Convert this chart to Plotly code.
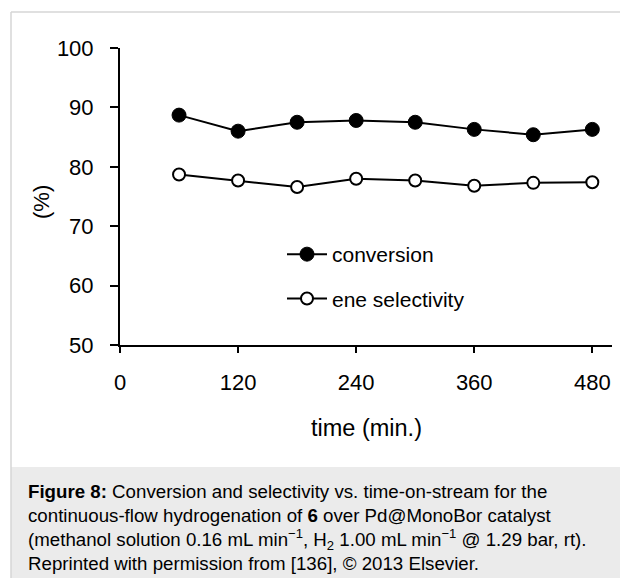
import plotly.graph_objects as go

# ---- data ----
time_min = [60, 120, 180, 240, 300, 360, 420, 480]
conversion = [88.7, 86.0, 87.5, 87.8, 87.5, 86.3, 85.4, 86.3]
ene_selectivity = [78.7, 77.7, 76.6, 78.0, 77.7, 76.8, 77.3, 77.4]
x_ticks = [0, 120, 240, 360, 480]
y_ticks = [50, 60, 70, 80, 90, 100]

W, H = 620, 578
L, R, T, B = 120, 8, 48, 233
PW, PH = W - L - R, H - T - B
FONT = "Liberation Sans, Arial, sans-serif"


def px(x):
    return (x - L) / PW


def py(y):
    return (H - B - y) / PH


fig = go.Figure()
fig.add_trace(go.Scatter(
    x=time_min, y=conversion, mode="lines+markers", name="conversion",
    legendgroup="a",
    line=dict(color="black", width=2),
    marker=dict(size=14, color="black", line=dict(color="black", width=1)),
))
fig.add_trace(go.Scatter(
    x=time_min, y=ene_selectivity, mode="lines+markers", name="ene selectivity",
    legendgroup="b",
    line=dict(color="black", width=2),
    marker=dict(size=12, color="white", line=dict(color="black", width=2)),
))

shapes = [
    dict(type="rect", xref="paper", yref="paper", x0=px(11), x1=px(W), y0=py(H), y1=py(467),
         fillcolor="#ebebeb", line=dict(width=0), layer="below"),
    dict(type="line", xref="paper", yref="paper", x0=px(11), x1=px(11), y0=py(12), y1=py(H),
         line=dict(color="#d6d6d6", width=1.5)),
    dict(type="line", xref="paper", yref="paper", x0=px(11), x1=px(W), y0=py(12), y1=py(12),
         line=dict(color="#d6d6d6", width=1.5)),
]

caption_lines = [
    "<b>Figure 8:</b> Conversion and selectivity vs. time-on-stream for the",
    "continuous-flow hydrogenation of <b>6</b> over Pd@MonoBor catalyst",
    "(methanol solution 0.16 mL min<sup>\u22121</sup>, H<sub>2</sub> 1.00 mL min<sup>\u22121</sup> @ 1.29 bar, rt).",
    "Reprinted with permission from [136], \u00a9 2013 Elsevier.",
]
caption_y = [491, 515, 539, 563]

annotations = [
    dict(text="time (min.)", xref="paper", yref="paper", x=px(366), y=py(428),
         xanchor="center", yanchor="middle", showarrow=False,
         font=dict(family=FONT, size=23.5, color="black")),
    dict(text="(%)", xref="paper", yref="paper", x=px(41), y=py(202), textangle=-90,
         xanchor="center", yanchor="middle", showarrow=False,
         font=dict(family=FONT, size=22, color="black")),
]
for txt, yy in zip(caption_lines, caption_y):
    annotations.append(dict(text=txt, xref="paper", yref="paper", x=px(26), y=py(yy),
                            xanchor="left", yanchor="middle", showarrow=False,
                            font=dict(family=FONT, size=18.7, color="black")))

fig.update_layout(
    width=W, height=H,
    margin=dict(l=L, r=R, t=T, b=B, autoexpand=False),
    paper_bgcolor="white", plot_bgcolor="white",
    font=dict(family=FONT, color="black"),
    showlegend=True,
    legend=dict(x=px(282), y=py(234), xanchor="left", yanchor="top",
                bgcolor="rgba(0,0,0,0)", font=dict(family=FONT, size=21, color="black"),
                tracegroupgap=14, traceorder="grouped", itemwidth=40),
    xaxis=dict(range=[0, 500], tickvals=x_ticks, ticktext=[str(v) for v in x_ticks],
               showline=True, linecolor="black", linewidth=2, ticks="outside",
               ticklen=6, tickwidth=2, tickcolor="black", showgrid=False, zeroline=False,
               tickfont=dict(family=FONT, size=22, color="black"), ticklabelstandoff=11),
    yaxis=dict(range=[50, 100], tickvals=y_ticks, ticktext=[str(v) for v in y_ticks],
               showline=True, linecolor="black", linewidth=2, ticks="outside",
               ticklen=8, tickwidth=2, tickcolor="black", showgrid=False, zeroline=False,
               tickfont=dict(family=FONT, size=22, color="black"), ticklabelstandoff=12),
    shapes=shapes,
    annotations=annotations,
)

fig.write_html("out.html", config={"displayModeBar": False},
               post_script="document.body.style.margin='0';document.body.style.overflow='hidden';")
